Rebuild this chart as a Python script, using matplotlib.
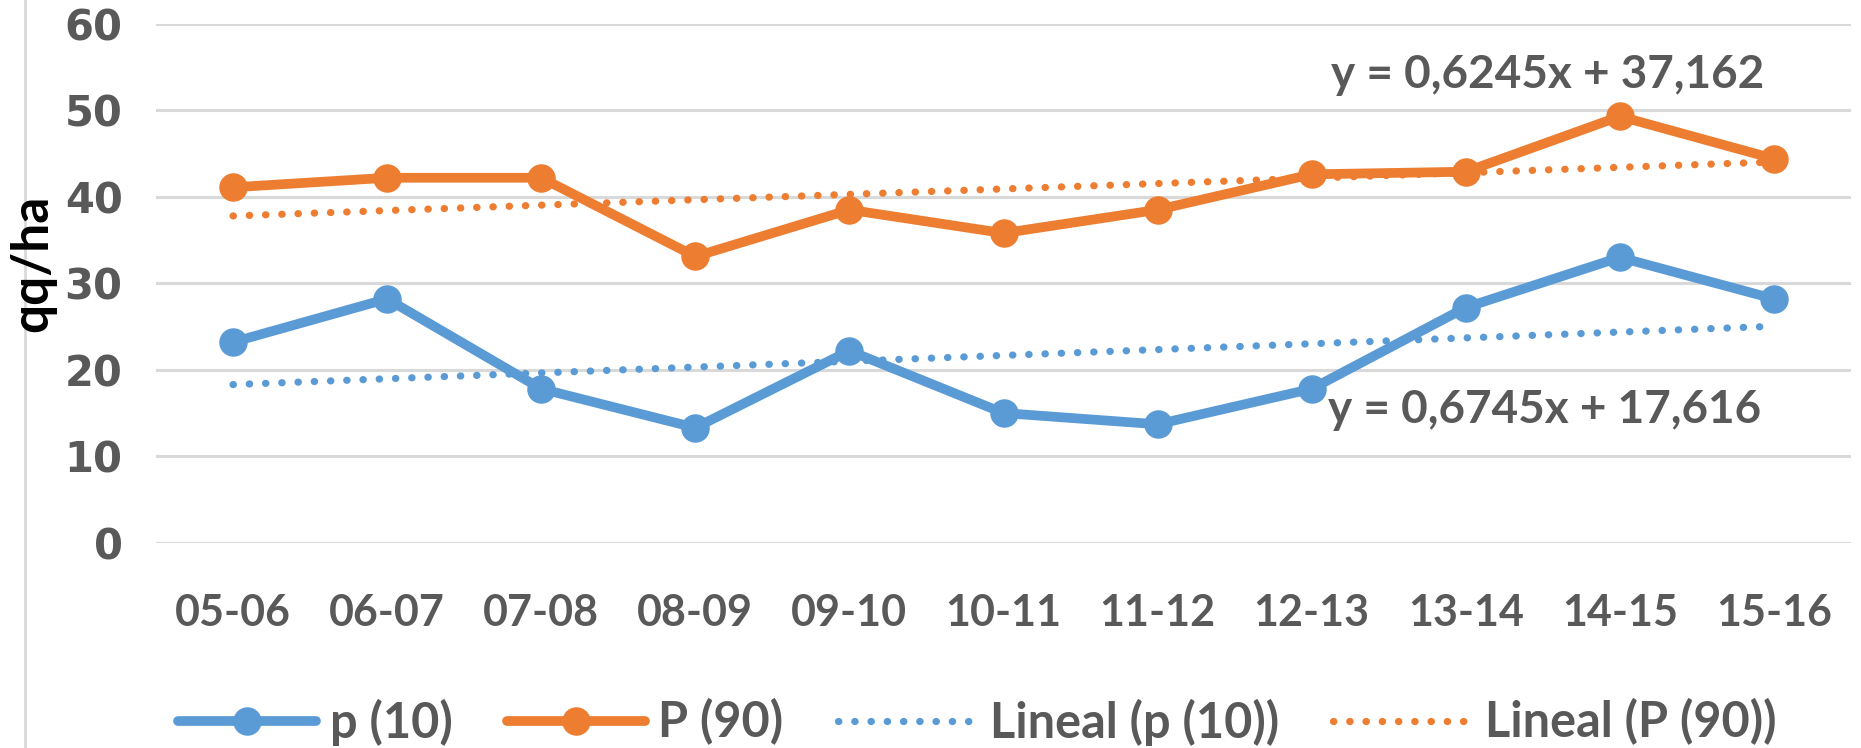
import numpy as np
import matplotlib
matplotlib.use('agg')
import matplotlib.pyplot as plt
from matplotlib.lines import Line2D

# campaigns on the x axis
seasons = ['05-06', '06-07', '07-08', '08-09', '09-10', '10-11',
           '11-12', '12-13', '13-14', '14-15', '15-16']
# yields in qq/ha
p10 = [23.2, 28.2, 17.8, 13.3, 22.2, 15.0, 13.7, 17.8, 27.2, 33.0, 28.2]
p90 = [41.1, 42.2, 42.2, 33.1, 38.5, 35.8, 38.5, 42.6, 42.9, 49.3, 44.4]
# linear trend coefficients as printed on the chart (slope, intercept)
trend_p10 = [0.6745, 17.616]
trend_p90 = [0.6245, 37.162]
eq_p10 = 'y = 0,6745x + 17,616'
eq_p90 = 'y = 0,6245x + 37,162'
yticks = [0, 10, 20, 30, 40, 50, 60]

blue = '#5B9BD5'
orange = '#ED7D31'
gray = '#595959'
grid = '#D9D9D9'
calibri = 'Lato'

W, H = 1861, 748
fig = plt.figure(figsize=(W / 100, H / 100), dpi=100)
ax = fig.add_axes([156 / W, 1 - 542.8 / H, (1851 - 156) / W, (542.8 - 23.8) / H])

x = np.arange(1, len(seasons) + 1)

ax.plot(x, p10, color=blue, lw=7, marker='o', ms=19.5, clip_on=False, zorder=3,
        solid_capstyle='round')
ax.plot(x, p90, color=orange, lw=7, marker='o', ms=19.5, clip_on=False, zorder=3,
        solid_capstyle='round')

dots = (0, (0.05, 2.2))
t10 = trend_p10[0] * x + trend_p10[1]
t90 = trend_p90[0] * x + trend_p90[1]
ax.plot(x, t10, color=blue, lw=5.2, ls=dots, dash_capstyle='round', zorder=4)
ax.plot(x, t90, color=orange, lw=5.2, ls=dots, dash_capstyle='round', zorder=4)

ax.set_xlim(0.5, len(seasons) + 0.5)
ax.set_ylim(0, 60)
ax.set_yticks(yticks)
ax.set_xticks(x)
ax.set_xticklabels(seasons, fontfamily=calibri, fontweight='bold', fontsize=31, color=gray)
ax.set_yticklabels([str(v) for v in yticks], fontfamily='DejaVu Sans', fontweight='bold',
                   fontsize=30, color=gray)
ax.tick_params(axis='both', length=0)
ax.tick_params(axis='y', pad=24)
ax.tick_params(axis='x', pad=36)
ax.grid(axis='y', color=grid, lw=2.2)
ax.set_axisbelow(True)
for s in ax.spines.values():
    s.set_visible(False)

ax.text(9.53, 52.6, eq_p90, ha='center', va='baseline', fontfamily=calibri,
        fontweight='bold', fontsize=33, color=gray, zorder=5)
ax.text(9.51, 13.8, eq_p10, ha='center', va='baseline', fontfamily=calibri,
        fontweight='bold', fontsize=33, color=gray, zorder=5)

fig.text(33 / W, 1 - 263 / H, 'qq/ha', rotation=90, ha='center', va='center',
         fontfamily=calibri, fontweight='bold', fontsize=37, color='black')

# chart border visible on the left
fig.add_artist(Line2D([25 / W, 25 / W], [0, 1], color=grid, lw=2))

handles = [
    Line2D([], [], color=blue, lw=7, marker='o', ms=19.5, solid_capstyle='round'),
    Line2D([], [], color=orange, lw=7, marker='o', ms=19.5, solid_capstyle='round'),
    Line2D([], [], color=blue, lw=5.2, ls=dots, dash_capstyle='round'),
    Line2D([], [], color=orange, lw=5.2, ls=dots, dash_capstyle='round'),
]
labels = ['p (10)', 'P (90)', 'Lineal (p (10))', 'Lineal (P (90))']
fs = 35
fspx = fs * 100 / 72
fig.legend(handles, labels, ncol=4, loc='center', bbox_to_anchor=(977 / W, 1 - 722 / H),
           frameon=False, prop={'family': calibri, 'weight': 'bold', 'size': fs},
           labelcolor=gray, handlelength=138 / fspx, handletextpad=14 / fspx,
           columnspacing=54 / fspx, borderpad=0, borderaxespad=0)

fig.savefig('out.png', dpi=100)
